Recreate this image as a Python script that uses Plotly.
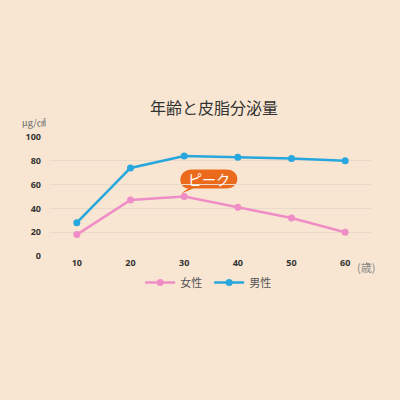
import plotly.graph_objects as go

# data
ages = ['10', '20', '30', '40', '50', '60']
female = [18, 47, 50, 41, 32, 20]
male = [28, 74, 84, 83, 82, 80]
y_ticks = [0, 20, 40, 60, 80, 100]

bg = '#F8E6D2'
pink = '#EF8DC6'
blue = '#27A7DD'
orange = '#EC6A1C'
font_jp = 'Noto Sans CJK JP'

fig = go.Figure()

fig.add_trace(go.Scatter(x=ages, y=female, name='女性', mode='lines+markers',
                         line=dict(color=pink, width=2.5),
                         marker=dict(color=pink, size=7)))
fig.add_trace(go.Scatter(x=ages, y=male, name='男性', mode='lines+markers',
                         line=dict(color=blue, width=2.5),
                         marker=dict(color=blue, size=7)))

# speech bubble for the peak, anchored on the 30s female point (pixel offsets)
peak_idx = female.index(max(female))
bubble = ('M 4,8 C -7,9 -7,27 8,27 L 42,27 C 57,27 57,8 42,8 '
          'L 9,8 L -3,3 Z')
fig.add_shape(type='path', xref='x', yref='y',
              xsizemode='pixel', ysizemode='pixel',
              xanchor=peak_idx, yanchor=female[peak_idx],
              path=bubble, fillcolor=orange, line=dict(width=0), layer='below')
fig.add_annotation(x=peak_idx, y=female[peak_idx], text='ピーク',
                   showarrow=False, xshift=25, yshift=18,
                   font=dict(family=font_jp, size=14, color='white'))

# unit and axis suffix
fig.add_annotation(x=0.0, y=1.0, xref='paper', yref='paper', text='μg/㎠',
                   showarrow=False, xanchor='right', yanchor='bottom',
                   xshift=-2, yshift=6,
                   font=dict(family=font_jp, size=9, color='#666666'))
fig.add_annotation(x=1.0, y=0, xref='paper', yref='paper', text='(歳)',
                   showarrow=False, xanchor='left', yanchor='top',
                   xshift=-17, yshift=-1,
                   font=dict(family=font_jp, size=11, color='#888888'))

fig.update_layout(
    width=400, height=400,
    paper_bgcolor=bg, plot_bgcolor=bg,
    margin=dict(l=50, r=28, t=137, b=144),
    title=dict(text='年齢と皮脂分泌量', x=0.535, xanchor='center',
               y=0.728, yanchor='middle',
               font=dict(family=font_jp, size=16, color='#333333')),
    showlegend=True,
    legend=dict(orientation='h', x=0.28, xanchor='left', y=-0.1, yanchor='top',
                font=dict(family=font_jp, size=11, color='#555555'),
                bgcolor='rgba(0,0,0,0)', entrywidth=24, entrywidthmode='pixels'),
    font=dict(family=font_jp),
)
fig.update_xaxes(type='category', showgrid=False, showline=False, zeroline=False,
                 ticks='', tickfont=dict(family='Noto Sans', size=9, color='#333333',
                                         weight='bold'),
                 range=[-0.5, 5.5])
fig.update_yaxes(range=[0, 100], tickvals=y_ticks, showgrid=True,
                 gridcolor='#E9DBCC', gridwidth=1, zeroline=False, showline=False,
                 ticks='', ticklabelstandoff=8,
                 tickfont=dict(family='Noto Sans', size=9, color='#333333',
                               weight='bold'))

# page body has a default margin; remove it so the figure sits at the corner
fig.write_html('out.html', config={'displayModeBar': False},
               post_script="document.body.style.margin='0';"
                           "document.body.style.background='%s';" % bg)
